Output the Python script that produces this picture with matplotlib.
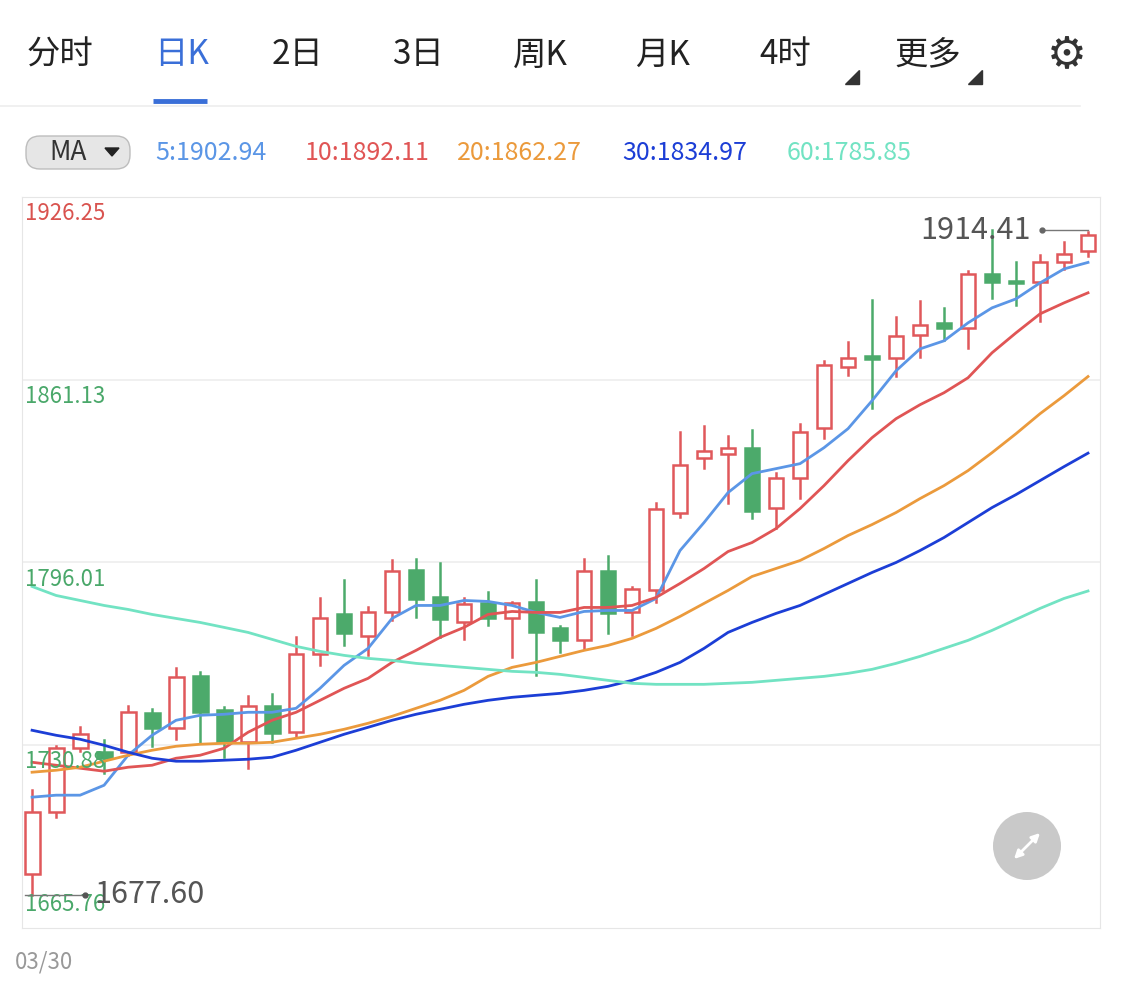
import matplotlib
matplotlib.use("Agg")
import matplotlib.pyplot as plt
from matplotlib.patches import Rectangle, FancyBboxPatch, Circle

plt.rcParams["font.family"] = ["Noto Sans CJK SC", "DejaVu Sans"]

# daily candles (open, close, high, low)
opens = [1684.98, 1707.04, 1729.81, 1728.39, 1728.39, 1742.27, 1736.93, 1755.44, 1743.34, 1731.95,
         1744.76, 1735.51, 1763.26, 1777.50, 1769.67, 1778.21, 1793.51, 1783.55, 1774.65, 1781.42,
         1776.07, 1781.77, 1772.52, 1768.25, 1792.80, 1778.21, 1786.04, 1813.80, 1833.36, 1834.79,
         1836.92, 1815.57, 1826.25, 1844.04, 1865.75, 1869.66, 1868.95, 1877.13, 1881.40, 1879.62,
         1898.84, 1896.35, 1896.00, 1903.12, 1907.03]
closes = [1707.04, 1729.81, 1734.80, 1726.26, 1742.63, 1736.93, 1755.08, 1742.63, 1731.95, 1744.76,
          1735.15, 1763.26, 1776.07, 1770.75, 1778.21, 1793.15, 1782.84, 1775.72, 1781.06, 1776.07,
          1781.42, 1771.09, 1768.25, 1792.80, 1777.86, 1786.40, 1815.22, 1830.88, 1835.86, 1836.92,
          1814.51, 1826.25, 1842.62, 1866.46, 1868.95, 1868.60, 1876.77, 1880.69, 1879.62, 1898.84,
          1896.00, 1895.64, 1903.12, 1905.96, 1912.73]
highs = [1714.87, 1730.50, 1737.29, 1732.66, 1744.76, 1743.69, 1758.27, 1756.86, 1744.40, 1748.32,
         1749.03, 1769.32, 1783.19, 1789.60, 1779.99, 1797.07, 1797.42, 1795.65, 1783.19, 1785.33,
         1781.77, 1789.60, 1773.23, 1797.42, 1798.49, 1787.11, 1817.35, 1842.62, 1844.76, 1841.19,
         1843.33, 1828.03, 1845.47, 1867.88, 1874.64, 1889.59, 1883.54, 1889.24, 1886.75, 1899.91,
         1914.41, 1903.12, 1905.60, 1910.23, 1913.79]
lows = [1677.60, 1705.26, 1729.00, 1720.91, 1727.32, 1730.52, 1733.02, 1731.59, 1726.61, 1722.70,
        1731.95, 1733.73, 1759.35, 1766.47, 1762.91, 1775.36, 1776.43, 1769.32, 1768.61, 1773.58,
        1762.20, 1755.79, 1763.98, 1765.40, 1770.75, 1770.03, 1781.77, 1812.37, 1829.81, 1817.35,
        1812.01, 1808.46, 1819.13, 1840.48, 1862.90, 1851.16, 1862.55, 1869.31, 1875.35, 1872.51,
        1890.30, 1887.82, 1882.12, 1900.62, 1905.25]

ma5 = [1712.38, 1713.09, 1713.09, 1716.63, 1727.32, 1734.44, 1739.78, 1741.56, 1741.92, 1742.63,
       1742.63, 1744.05, 1751.19, 1759.35, 1765.40, 1776.07, 1780.70, 1780.70, 1782.48, 1782.13,
       1780.70, 1778.21, 1776.43, 1778.56, 1778.92, 1778.92, 1783.19, 1800.27, 1810.24, 1820.91,
       1827.68, 1829.45, 1831.23, 1836.92, 1843.69, 1853.65, 1864.31, 1872.13, 1875.00, 1881.40,
       1886.75, 1889.95, 1895.64, 1900.62, 1902.94]
ma10 = [1724.82, 1723.76, 1722.70, 1721.63, 1723.05, 1723.76, 1726.26, 1727.32, 1729.81, 1735.51,
        1739.78, 1742.63, 1746.89, 1751.17, 1754.72, 1760.41, 1764.69, 1769.32, 1772.88, 1777.50,
        1778.56, 1778.21, 1778.21, 1779.99, 1779.99, 1780.70, 1783.55, 1788.53, 1793.86, 1799.91,
        1803.12, 1808.10, 1815.22, 1823.40, 1832.30, 1840.48, 1847.24, 1852.23, 1856.50, 1861.83,
        1870.73, 1877.85, 1884.60, 1888.52, 1892.11]
ma20 = [1721.27, 1721.98, 1723.05, 1725.19, 1727.32, 1729.10, 1730.52, 1731.24, 1731.59, 1731.59,
        1731.95, 1733.37, 1734.79, 1736.57, 1738.71, 1741.20, 1744.05, 1746.89, 1750.45, 1755.43,
        1758.63, 1760.41, 1762.55, 1764.69, 1766.47, 1768.96, 1772.52, 1776.79, 1781.42, 1786.04,
        1791.02, 1793.87, 1796.71, 1800.98, 1805.61, 1809.52, 1813.80, 1818.78, 1823.40, 1828.74,
        1835.14, 1841.90, 1849.02, 1855.43, 1862.27]
ma30 = [1736.22, 1734.44, 1733.02, 1730.88, 1728.39, 1726.26, 1725.19, 1725.19, 1725.55, 1725.90,
        1726.61, 1729.10, 1731.95, 1734.79, 1737.28, 1739.78, 1741.92, 1743.69, 1745.47, 1746.89,
        1747.96, 1748.68, 1749.38, 1750.45, 1751.88, 1754.01, 1756.86, 1760.41, 1765.40, 1771.09,
        1774.65, 1777.86, 1780.70, 1784.62, 1788.53, 1792.44, 1796.00, 1800.27, 1804.90, 1810.24,
        1815.57, 1820.20, 1825.18, 1830.16, 1834.97]
ma60 = [1787.46, 1784.26, 1782.48, 1780.70, 1779.28, 1777.50, 1776.07, 1774.65, 1772.88, 1771.09,
        1768.61, 1766.12, 1764.34, 1762.91, 1761.84, 1761.13, 1760.06, 1759.35, 1758.64, 1757.93,
        1757.22, 1756.86, 1756.15, 1755.08, 1754.01, 1752.95, 1752.59, 1752.59, 1752.59, 1752.95,
        1753.30, 1754.01, 1754.72, 1755.43, 1756.50, 1757.93, 1760.06, 1762.55, 1765.40, 1768.25,
        1771.81, 1775.72, 1779.64, 1783.19, 1785.85]

tabs = ["分时", "日K", "2日", "3日", "周K", "月K", "4时", "更多"]
ma_labels = ["5:1902.94", "10:1892.11", "20:1862.27", "30:1834.97", "60:1785.85"]
ma_colors = ["#5b96e6", "#e05555", "#eb9a3c", "#1c3ed6", "#72e3c3"]
y_ticks = [1926.25, 1861.13, 1796.01, 1730.88, 1665.76]
max_label, min_label = "1914.41", "1677.60"
date_label = "03/30"

W, H = 1125, 983
fig = plt.figure(figsize=(W / 100, H / 100), dpi=100)

# overlay axes in pixel coordinates for chrome
ui = fig.add_axes([0, 0, 1, 1])
ui.set_xlim(0, W)
ui.set_ylim(H, 0)
ui.axis("off")

tab_x = [60, 182, 298, 418, 540, 662, 785, 928]
for t, x in zip(tabs, tab_x):
    ui.text(x, 55, t, ha="center", va="center", fontsize=24,
            color="#3a6fd8" if t == "日K" else "#222222")
ui.plot([153, 207], [101, 101], color="#3a6fd8", lw=3.5, solid_capstyle="butt")
ui.plot([0, 1080], [106, 106], color="#eeeeee", lw=1.2)
for tx in (852, 975):
    ui.fill([tx - 7, tx + 7, tx + 7], [84, 84, 70], color="#333333")
ui.text(1067, 55, "⚙", ha="center", va="center", fontsize=32, color="#333333",
        family="DejaVu Sans")

ui.add_patch(FancyBboxPatch((26, 136), 104, 33, boxstyle="round,pad=0,rounding_size=14",
                            fc="#e6e6e6", ec="#bdbdbd", lw=1))
ui.text(68, 153, "MA", ha="center", va="center", fontsize=19, color="#333333")
ui.fill([105, 119, 112], [148, 148, 156], color="#222222")
for lab, x, c in zip(ma_labels, [155, 305, 457, 622, 787], ma_colors):
    ui.text(x, 153, lab, ha="left", va="center", fontsize=18, color=c)

ui.text(15, 962, date_label, ha="left", va="center", fontsize=16, color="#999999")

# main candle chart
ax = fig.add_axes([22 / W, 1 - 928 / H, (1100 - 22) / W, (928 - 197) / H])
ax.set_xlim(-0.42, 44.5)
ax.set_ylim(y_ticks[-1], y_ticks[0])
for s in ax.spines.values():
    s.set_color("#e6e6e6")
ax.set_xticks([])
ax.set_yticks([])
for v in y_ticks[1:-1]:
    ax.axhline(v, color="#eeeeee", lw=1.2, zorder=0)

up_c, dn_c = "#e0585b", "#4caa6b"
bw = 0.62
for i, (o, c, h, l) in enumerate(zip(opens, closes, highs, lows)):
    col = up_c if c >= o else dn_c
    lo, hi = min(o, c), max(o, c)
    ax.plot([i, i], [l, lo], color=col, lw=1.8, zorder=3)
    ax.plot([i, i], [hi, h], color=col, lw=1.8, zorder=3)
    if c >= o:
        ax.add_patch(Rectangle((i - bw / 2, lo), bw, max(hi - lo, 0.3), fc="white",
                               ec=col, lw=1.8, zorder=4))
    else:
        ax.add_patch(Rectangle((i - bw / 2, lo), bw, max(hi - lo, 0.6), fc=col,
                               ec=col, lw=1.8, zorder=4))

xs = list(range(len(closes)))
for series, c in zip([ma5, ma10, ma20, ma30, ma60], ma_colors):
    ax.plot(xs, series, color=c, lw=2.0, zorder=5)

tick_colors = ["#d9534f", "#4aa86a", "#4aa86a", "#4aa86a", "#4aa86a"]
for k, (v, c) in enumerate(zip(y_ticks, tick_colors)):
    ax.annotate(f"{v:.2f}", (0, v), xycoords=("axes fraction", "data"),
                xytext=(2, 17 if k == len(y_ticks) - 1 else -12), textcoords="offset points",
                ha="left", va="center", fontsize=16, color=c, zorder=6)

imax = highs.index(max(highs))
imin = lows.index(min(lows))
ax.plot([imax + 2.1, 44], [max(highs), max(highs)], color="#777777", lw=1, zorder=6)
ax.plot([imax + 2.1], [max(highs)], "o", color="#666666", ms=3.5, zorder=6)
ax.annotate(max_label, (imax + 1.6, max(highs)), ha="right", va="center",
            fontsize=22, color="#555555", zorder=7)
ax.plot([-0.3, imin + 2.2], [min(lows), min(lows)], color="#777777", lw=1, zorder=6)
ax.plot([imin + 2.2], [min(lows)], "o", color="#555555", ms=3.5, zorder=6)
ax.annotate(min_label, (imin + 2.6, min(lows)), ha="left", va="center",
            fontsize=22, color="#555555", zorder=7)

# expand button on top of the chart
top = fig.add_axes([0, 0, 1, 1])
top.set_xlim(0, W)
top.set_ylim(H, 0)
top.axis("off")
top.patch.set_alpha(0)
top.add_patch(Circle((1027, 846), 34, fc="#c9c9c9", ec="none"))
top.annotate("", xy=(1042, 831), xytext=(1012, 861),
             arrowprops=dict(arrowstyle="<|-|>", color="white", lw=2, mutation_scale=12))

fig.savefig("out.png", dpi=100)
